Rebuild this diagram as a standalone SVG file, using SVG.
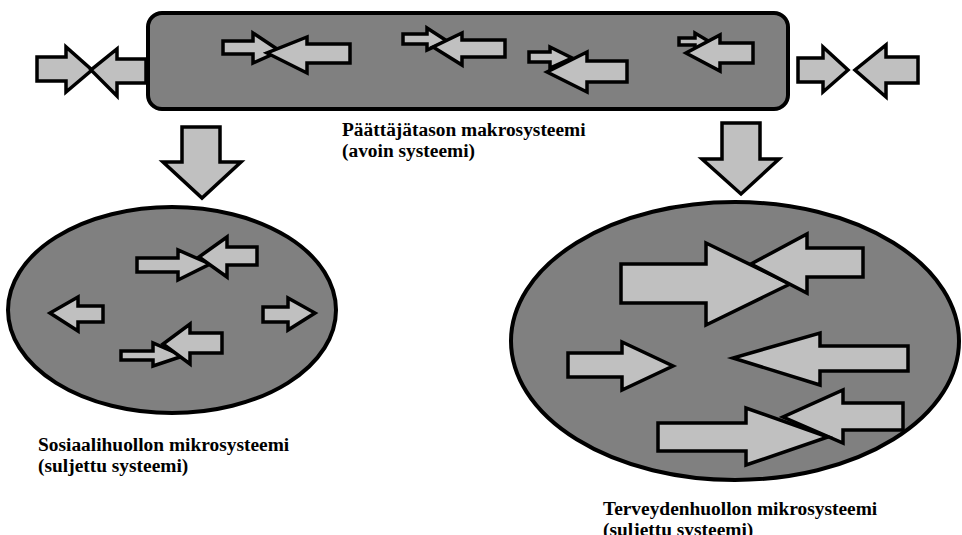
<svg xmlns="http://www.w3.org/2000/svg" width="962" height="535" viewBox="0 0 962 535">
<style>
.box{fill:#808080;stroke:#000;stroke-width:4}
.arr{fill:#c0c0c0;stroke:#000;stroke-width:3.5;stroke-linejoin:miter}
.lbl{font-family:"Liberation Serif","Times New Roman",serif;font-weight:bold;font-size:19.4px;fill:#000}
</style>
<rect width="962" height="535" fill="#fff"/>
<g id="connectors">
<g id="outside-left">
<polygon class="arr" points="37,57 66,57 66,47 92,70 66,92 66,81 37,81"/>
<polygon class="arr" points="146,59 117,59 117,49 91,70 117,96 117,83 146,83"/>
</g>
</g>
<g id="makrosysteemi">
<rect class="box" x="148" y="13" width="640" height="96" rx="14"/>
<polygon class="arr" points="223,41 253,41 253,33 280,51 253,63 253,54 223,54"/>
<polygon class="arr" points="350,44 307,44 307,37 267,53 307,73 307,63 350,63"/>
<polygon class="arr" points="403,34 427,34 427,28 447,41 427,50 427,44 403,44"/>
<polygon class="arr" points="505,40 462,40 462,33 433,47 462,65 462,57 505,57"/>
<polygon class="arr" points="529,52 550,52 550,47 572,58 550,68 550,62 529,62"/>
<polygon class="arr" points="627,61 587,61 587,52 547,72 587,92 587,82 627,82"/>
<polygon class="arr" points="679,38 695,38 695,33 710,42 695,49 695,45 679,45"/>
<polygon class="arr" points="753,43 720,43 720,35 686,53 720,71 720,63 753,63"/>
<text class="lbl" x="342" y="136">Päättäjätason makrosysteemi</text>
<text class="lbl" x="342" y="157">(avoin systeemi)</text>
</g>
<g id="outside-right">
<polygon class="arr" points="798,58 823,58 823,47 848,70 823,92 823,82 798,82"/>
<polygon class="arr" points="918,57 886,57 886,45 855,70 886,97 886,83 918,83"/>
</g>
<g id="down-arrows">
<polygon class="arr" points="182,127 220,127 220,162 241,162 202,198 163,162 182,162"/>
<polygon class="arr" points="722,123 760,123 760,159 779,159 741,194 702,159 722,159"/>
</g>
<g id="sosiaalihuolto">
<ellipse class="box" cx="172" cy="310" rx="164" ry="103"/>
<polygon class="arr" points="137,258 178,258 178,250 210,264 178,280 178,272 137,272"/>
<polygon class="arr" points="257,247 227,247 227,237 199,257 227,277 227,265 257,265"/>
<polygon class="arr" points="103,306 78,306 78,297 50,313 78,331 78,322 103,322"/>
<polygon class="arr" points="263,307 288,307 288,298 315,313 288,330 288,322 263,322"/>
<polygon class="arr" points="121,351 153,351 153,343 183,356 153,366 153,360 121,360"/>
<polygon class="arr" points="222,333 190,333 190,324 163,344 190,364 190,353 222,353"/>
<text class="lbl" x="38" y="451">Sosiaalihuollon mikrosysteemi</text>
<text class="lbl" x="38" y="472">(suljettu systeemi)</text>
</g>
<g id="terveydenhuolto">
<ellipse class="box" cx="735" cy="341" rx="224" ry="139"/>
<polygon class="arr" points="621,264 706,264 706,243 790,284 706,325 706,303 621,303"/>
<polygon class="arr" points="863,248 807,248 807,234 751,264 807,293 807,277 863,277"/>
<polygon class="arr" points="568,353 622,353 622,342 673,366 622,390 622,377 568,377"/>
<polygon class="arr" points="908,346 820,346 820,333 733,358 820,385 820,371 908,371"/>
<polygon class="arr" points="903,403 843,403 843,390 783,417 843,443 843,430 903,430"/>
<polygon class="arr" points="658,423 746,423 746,408 828,437 746,465 746,451 658,451"/>
<text class="lbl" x="603" y="515">Terveydenhuollon mikrosysteemi</text>
<text class="lbl" x="603" y="536">(suljettu systeemi)</text>
</g>
</svg>
